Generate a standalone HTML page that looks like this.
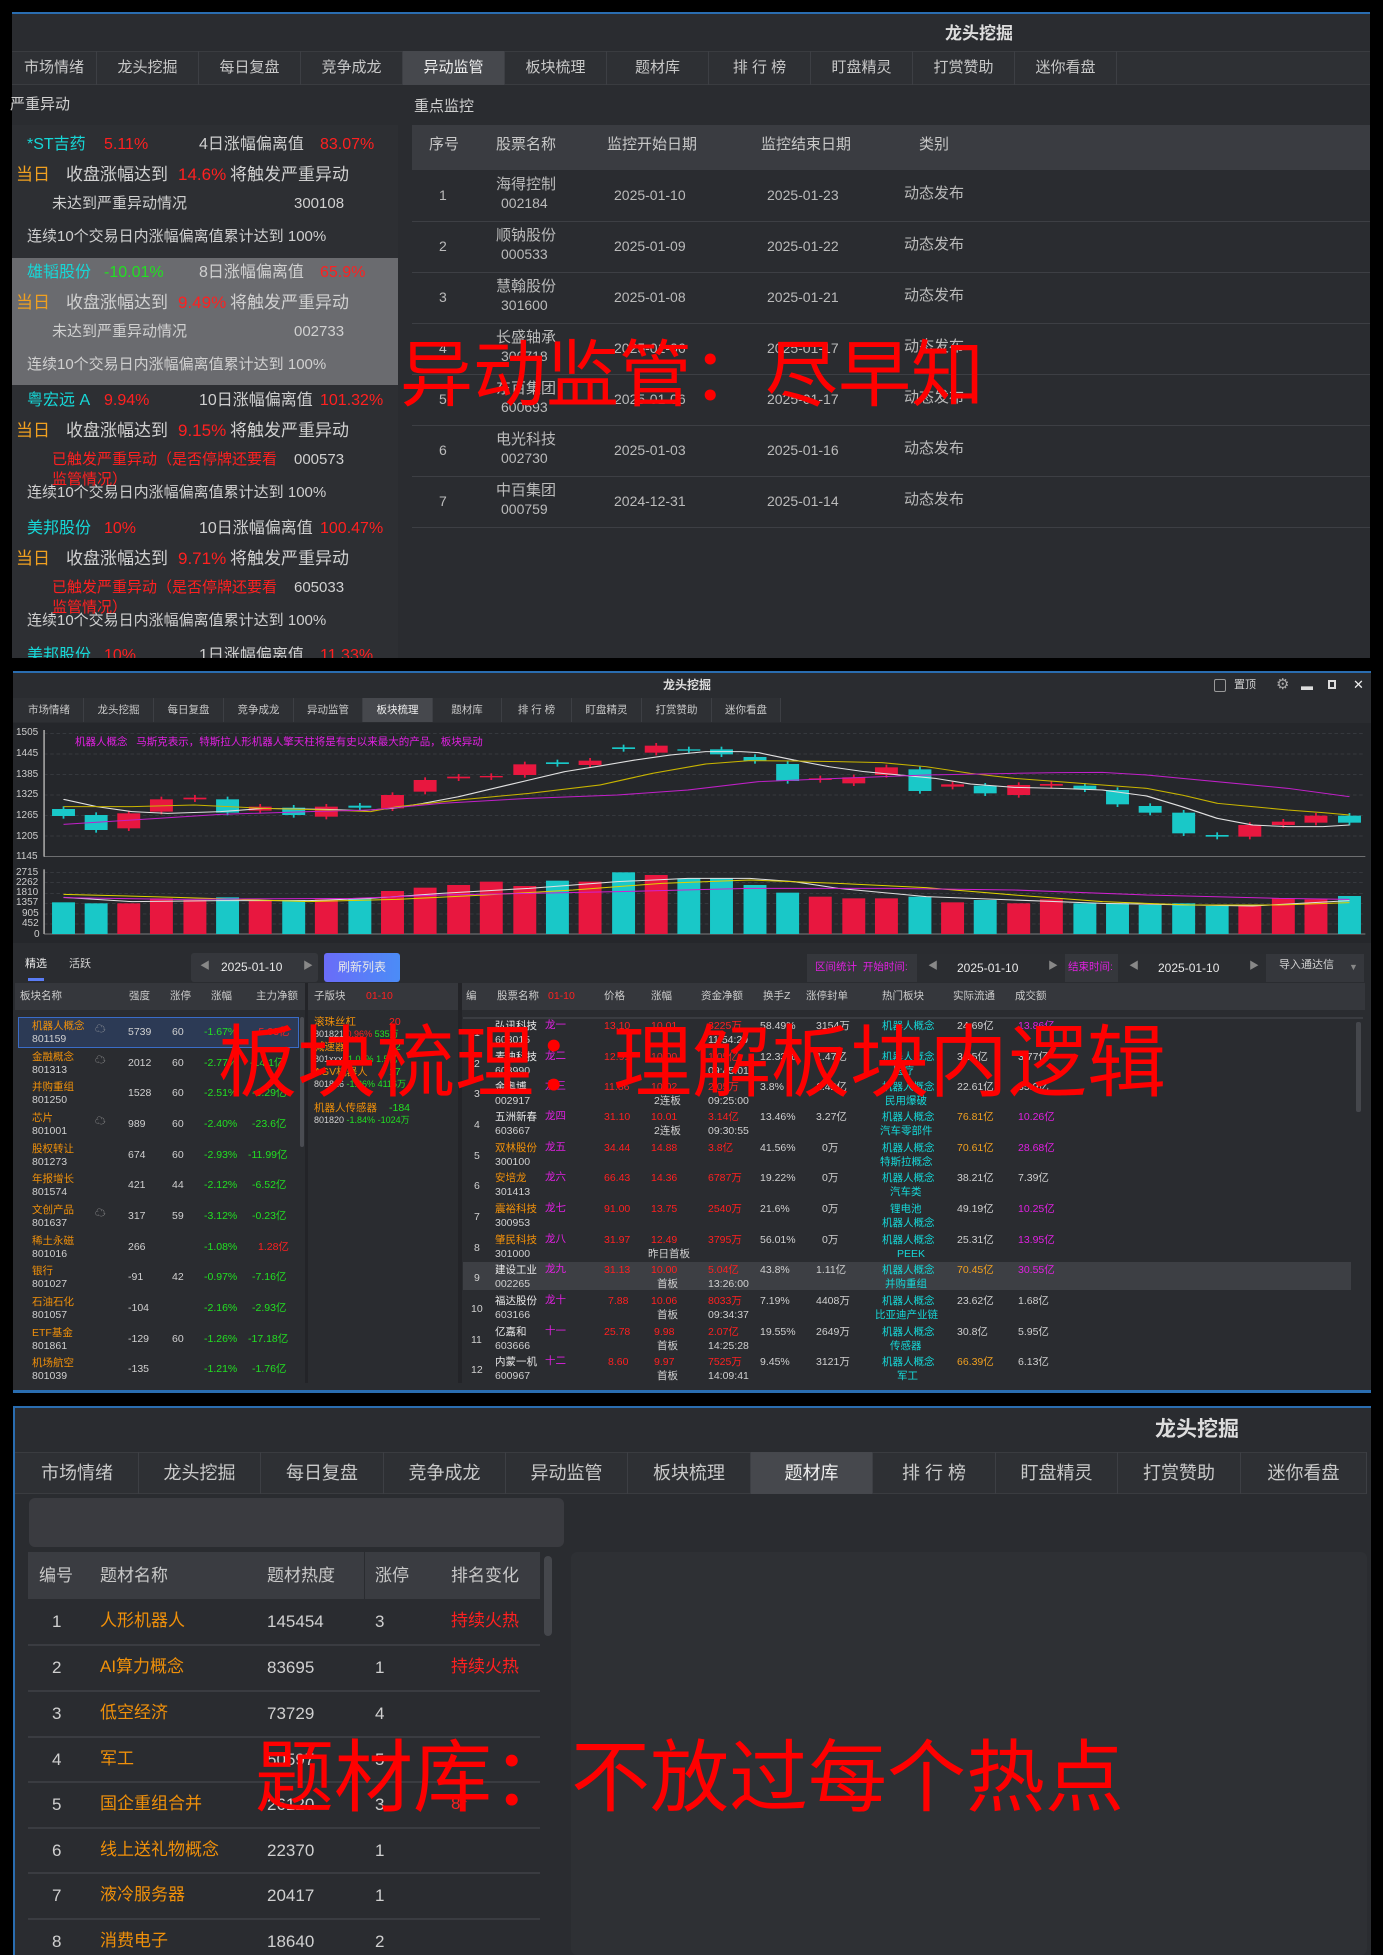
<!DOCTYPE html>
<html><head><meta charset="utf-8"><style>
*{margin:0;padding:0;box-sizing:border-box}
body{width:1383px;height:1955px;background:#000;position:relative;overflow:hidden;font-family:"Liberation Sans","Noto Sans CJK SC",sans-serif;color:#d0d0d0}
.a{position:absolute;white-space:nowrap;line-height:1}
.p{position:absolute}
.tab{position:absolute;border-right:1px solid #3d3f44;text-align:center;color:#c8c8c8}
.r{color:#ff2020}.g{color:#22e022}.o{color:#f0900a}.c{color:#16d8d8}.m{color:#e020e0}.w{color:#e8e8e8}.y{color:#f0a020}
.ov{position:absolute;color:#ff0000;white-space:nowrap;line-height:1;font-family:"Noto Sans CJK SC",sans-serif}
</style></head><body>

<!-- ============ SECTION 1 ============ -->
<div class="p" style="left:12px;top:12px;width:1358px;height:646px;background:#2a2c30;border-top:2px solid #2a6db0"></div>
<div class="a" style="left:945px;top:25px;font-size:17px;font-weight:bold;color:#ddd">龙头挖掘</div>
<div class="p" style="left:12px;top:51px;width:1358px;height:34px;background:#2e3034;border-top:1px solid #3a3c40;border-bottom:1px solid #3a3c40"></div>
<div style="font-size:15px">
<div class="tab" style="left:12px;top:51px;width:85px;height:34px;line-height:34px">市场情绪</div>
<div class="tab" style="left:97px;top:51px;width:102px;height:34px;line-height:34px">龙头挖掘</div>
<div class="tab" style="left:199px;top:51px;width:102px;height:34px;line-height:34px">每日复盘</div>
<div class="tab" style="left:301px;top:51px;width:102px;height:34px;line-height:34px">竞争成龙</div>
<div class="tab" style="left:403px;top:51px;width:102px;height:34px;line-height:34px;background:#46484d;color:#eee">异动监管</div>
<div class="tab" style="left:505px;top:51px;width:102px;height:34px;line-height:34px">板块梳理</div>
<div class="tab" style="left:607px;top:51px;width:102px;height:34px;line-height:34px">题材库</div>
<div class="tab" style="left:709px;top:51px;width:102px;height:34px;line-height:34px">排 行 榜</div>
<div class="tab" style="left:811px;top:51px;width:102px;height:34px;line-height:34px">盯盘精灵</div>
<div class="tab" style="left:913px;top:51px;width:102px;height:34px;line-height:34px">打赏赞助</div>
<div class="tab" style="left:1015px;top:51px;width:102px;height:34px;line-height:34px">迷你看盘</div>
</div>
<div class="a" style="left:10px;top:97px;font-size:15px">严重异动</div>
<div class="a" style="left:414px;top:99px;font-size:15px">重点监控</div>
<div class="p" style="left:12px;top:125px;width:386px;height:533px;background:#2d2f33"></div>
<div class="p" style="left:12px;top:258px;width:386px;height:127px;background:#6a6b6f"></div>

<div style="font-size:16px">
<div class="a c" style="left:27px;top:137px">*ST吉药</div><div class="a r" style="left:104px;top:137px">5.11%</div><div class="a" style="left:199px;top:137px">4日涨幅偏离值</div><div class="a r" style="left:320px;top:137px">83.07%</div>
<div class="a y" style="left:16px;top:166px;font-size:17px">当日</div><div class="a" style="left:66px;top:166px;font-size:17px">收盘涨幅达到</div><div class="a r" style="left:178px;top:166px;font-size:17px">14.6%</div><div class="a" style="left:230px;top:166px;font-size:17px">将触发严重异动</div>
<div class="a" style="left:52px;top:196px;font-size:15px">未达到严重异动情况</div><div class="a" style="left:294px;top:196px;font-size:15px">300108</div>
<div class="a" style="left:27px;top:229px;font-size:15px">连续10个交易日内涨幅偏离值累计达到 100%</div>
<div class="a c" style="left:27px;top:265px">雄韬股份</div><div class="a g" style="left:104px;top:265px">-10.01%</div><div class="a" style="left:199px;top:265px">8日涨幅偏离值</div><div class="a r" style="left:320px;top:265px">65.9%</div>
<div class="a y" style="left:16px;top:294px;font-size:17px">当日</div><div class="a" style="left:66px;top:294px;font-size:17px">收盘涨幅达到</div><div class="a r" style="left:178px;top:294px;font-size:17px">9.49%</div><div class="a" style="left:230px;top:294px;font-size:17px">将触发严重异动</div>
<div class="a" style="left:52px;top:324px;font-size:15px">未达到严重异动情况</div><div class="a" style="left:294px;top:324px;font-size:15px">002733</div>
<div class="a" style="left:27px;top:357px;font-size:15px">连续10个交易日内涨幅偏离值累计达到 100%</div>
<div class="a c" style="left:27px;top:393px">粤宏远 A</div><div class="a r" style="left:104px;top:393px">9.94%</div><div class="a" style="left:199px;top:393px">10日涨幅偏离值</div><div class="a r" style="left:320px;top:393px">101.32%</div>
<div class="a y" style="left:16px;top:422px;font-size:17px">当日</div><div class="a" style="left:66px;top:422px;font-size:17px">收盘涨幅达到</div><div class="a r" style="left:178px;top:422px;font-size:17px">9.15%</div><div class="a" style="left:230px;top:422px;font-size:17px">将触发严重异动</div>
<div class="a r" style="left:52px;top:452px;font-size:15px">已触发严重异动（是否停牌还要看</div><div class="a r" style="left:52px;top:472px;font-size:15px">监管情况）</div><div class="a" style="left:294px;top:452px;font-size:15px">000573</div>
<div class="a" style="left:27px;top:485px;font-size:15px">连续10个交易日内涨幅偏离值累计达到 100%</div>
<div class="a c" style="left:27px;top:521px">美邦股份</div><div class="a r" style="left:104px;top:521px">10%</div><div class="a" style="left:199px;top:521px">10日涨幅偏离值</div><div class="a r" style="left:320px;top:521px">100.47%</div>
<div class="a y" style="left:16px;top:550px;font-size:17px">当日</div><div class="a" style="left:66px;top:550px;font-size:17px">收盘涨幅达到</div><div class="a r" style="left:178px;top:550px;font-size:17px">9.71%</div><div class="a" style="left:230px;top:550px;font-size:17px">将触发严重异动</div>
<div class="a r" style="left:52px;top:580px;font-size:15px">已触发严重异动（是否停牌还要看</div><div class="a r" style="left:52px;top:600px;font-size:15px">监管情况）</div><div class="a" style="left:294px;top:580px;font-size:15px">605033</div>
<div class="a" style="left:27px;top:613px;font-size:15px">连续10个交易日内涨幅偏离值累计达到 100%</div>
<div class="a c" style="left:27px;top:648px">美邦股份</div><div class="a r" style="left:104px;top:648px">10%</div><div class="a" style="left:199px;top:648px">1日涨幅偏离值</div><div class="a r" style="left:320px;top:648px">11.33%</div>
</div>
<div class="p" style="left:0;top:658px;width:1383px;height:14px;background:#000"></div>

<div class="p" style="left:412px;top:125px;width:958px;height:45px;background:#3a3c41"></div>
<div style="font-size:15px;color:#c8c8c8">
<div class="a" style="left:429px;top:137px">序号</div><div class="a" style="left:496px;top:137px">股票名称</div><div class="a" style="left:607px;top:137px">监控开始日期</div><div class="a" style="left:761px;top:137px">监控结束日期</div><div class="a" style="left:919px;top:137px">类别</div>
</div>
<div style="font-size:14px;color:#bbb">
<div class="p" style="left:412px;top:221px;width:958px;height:1px;background:#3d3f44"></div>
<div class="p" style="left:412px;top:272px;width:958px;height:1px;background:#3d3f44"></div>
<div class="p" style="left:412px;top:323px;width:958px;height:1px;background:#3d3f44"></div>
<div class="p" style="left:412px;top:374px;width:958px;height:1px;background:#3d3f44"></div>
<div class="p" style="left:412px;top:425px;width:958px;height:1px;background:#3d3f44"></div>
<div class="p" style="left:412px;top:476px;width:958px;height:1px;background:#3d3f44"></div>
<div class="p" style="left:412px;top:527px;width:958px;height:1px;background:#3d3f44"></div>
<div class="a" style="left:439px;top:188px">1</div><div class="a" style="left:496px;top:177px;font-size:15px">海得控制</div><div class="a" style="left:501px;top:196px">002184</div><div class="a" style="left:614px;top:188px">2025-01-10</div><div class="a" style="left:767px;top:188px">2025-01-23</div><div class="a" style="left:904px;top:186px;font-size:15px">动态发布</div>
<div class="a" style="left:439px;top:239px">2</div><div class="a" style="left:496px;top:228px;font-size:15px">顺钠股份</div><div class="a" style="left:501px;top:247px">000533</div><div class="a" style="left:614px;top:239px">2025-01-09</div><div class="a" style="left:767px;top:239px">2025-01-22</div><div class="a" style="left:904px;top:237px;font-size:15px">动态发布</div>
<div class="a" style="left:439px;top:290px">3</div><div class="a" style="left:496px;top:279px;font-size:15px">慧翰股份</div><div class="a" style="left:501px;top:298px">301600</div><div class="a" style="left:614px;top:290px">2025-01-08</div><div class="a" style="left:767px;top:290px">2025-01-21</div><div class="a" style="left:904px;top:288px;font-size:15px">动态发布</div>
<div class="a" style="left:439px;top:341px">4</div><div class="a" style="left:496px;top:330px;font-size:15px">长盛轴承</div><div class="a" style="left:501px;top:349px">300718</div><div class="a" style="left:614px;top:341px">2025-01-06</div><div class="a" style="left:767px;top:341px">2025-01-17</div><div class="a" style="left:904px;top:339px;font-size:15px">动态发布</div>
<div class="a" style="left:439px;top:392px">5</div><div class="a" style="left:496px;top:381px;font-size:15px">东百集团</div><div class="a" style="left:501px;top:400px">600693</div><div class="a" style="left:614px;top:392px">2025-01-06</div><div class="a" style="left:767px;top:392px">2025-01-17</div><div class="a" style="left:904px;top:390px;font-size:15px">动态发布</div>
<div class="a" style="left:439px;top:443px">6</div><div class="a" style="left:496px;top:432px;font-size:15px">电光科技</div><div class="a" style="left:501px;top:451px">002730</div><div class="a" style="left:614px;top:443px">2025-01-03</div><div class="a" style="left:767px;top:443px">2025-01-16</div><div class="a" style="left:904px;top:441px;font-size:15px">动态发布</div>
<div class="a" style="left:439px;top:494px">7</div><div class="a" style="left:496px;top:483px;font-size:15px">中百集团</div><div class="a" style="left:501px;top:502px">000759</div><div class="a" style="left:614px;top:494px">2024-12-31</div><div class="a" style="left:767px;top:494px">2025-01-14</div><div class="a" style="left:904px;top:492px;font-size:15px">动态发布</div>
</div>
<div class="ov" style="left:400px;top:333px;font-size:73px">异动监管：尽早知</div>

<!-- ============ SECTION 2 ============ -->
<div class="p" style="left:13px;top:671px;width:1358px;height:721px;background:#2a2c30;border-top:2px solid #2a6db0"></div>
<div class="a" style="left:663px;top:679px;font-size:12px;font-weight:bold;color:#ddd">龙头挖掘</div>
<div class="p" style="left:1214px;top:679px;width:12px;height:13px;border:1px solid #999;border-radius:2px"></div>
<div class="a" style="left:1234px;top:680px;font-size:11px">置顶</div>
<div class="a" style="left:1276px;top:677px;font-size:15px;color:#aaa">⚙</div>
<div class="a" style="left:1301px;top:680px;font-size:12px;color:#ddd">▬</div>
<div class="p" style="left:1328px;top:680px;width:8px;height:9px;border:2px solid #ddd"></div>
<div class="a" style="left:1353px;top:678px;font-size:13px;color:#eee">✕</div>
<div class="p" style="left:13px;top:698px;width:768px;height:24px;background:#2e3034"></div>
<div style="font-size:10.5px">
<div class="tab" style="left:15px;top:698px;width:69px;height:24px;line-height:24px">市场情绪</div>
<div class="tab" style="left:84px;top:698px;width:70px;height:24px;line-height:24px">龙头挖掘</div>
<div class="tab" style="left:154px;top:698px;width:70px;height:24px;line-height:24px">每日复盘</div>
<div class="tab" style="left:224px;top:698px;width:70px;height:24px;line-height:24px">竞争成龙</div>
<div class="tab" style="left:294px;top:698px;width:69px;height:24px;line-height:24px">异动监管</div>
<div class="tab" style="left:363px;top:698px;width:70px;height:24px;line-height:24px;background:#46484d;color:#eee">板块梳理</div>
<div class="tab" style="left:433px;top:698px;width:69px;height:24px;line-height:24px">题材库</div>
<div class="tab" style="left:502px;top:698px;width:70px;height:24px;line-height:24px">排 行 榜</div>
<div class="tab" style="left:572px;top:698px;width:70px;height:24px;line-height:24px">盯盘精灵</div>
<div class="tab" style="left:642px;top:698px;width:70px;height:24px;line-height:24px">打赏赞助</div>
<div class="tab" style="left:712px;top:698px;width:69px;height:24px;line-height:24px">迷你看盘</div>
</div>
<div class="p" style="left:13px;top:723px;width:1358px;height:220px;background:#25272b"></div>
<svg class="p" style="left:0;top:660px" width="1383" height="300" viewBox="0 0 1568 900" preserveAspectRatio="none">
<g stroke="#4a4c52" stroke-width="1.5" stroke-dasharray="4 3">
<line x1="50" y1="220" x2="1548" y2="220"/><line x1="50" y1="282" x2="1548" y2="282"/><line x1="50" y1="343" x2="1548" y2="343"/><line x1="50" y1="405" x2="1548" y2="405"/><line x1="50" y1="466" x2="1548" y2="466"/><line x1="50" y1="528" x2="1548" y2="528"/>
<line x1="50" y1="637" x2="1548" y2="637"/><line x1="50" y1="668" x2="1548" y2="668"/><line x1="50" y1="700" x2="1548" y2="700"/><line x1="50" y1="730" x2="1548" y2="730"/><line x1="50" y1="762" x2="1548" y2="762"/><line x1="50" y1="792" x2="1548" y2="792"/>
</g>
<g stroke="#999" stroke-width="2"><line x1="50" y1="210" x2="50" y2="590"/><line x1="50" y1="590" x2="1548" y2="590"/><line x1="50" y1="628" x2="50" y2="822"/><line x1="50" y1="822" x2="1548" y2="822"/></g>
<g id="cand"></g>
<g stroke-width="3" fill="none">
<polyline stroke="#e0e0e0" points="72,418 110,440 150,455 190,460 250,455 300,445 370,448 410,452 445,445 480,430 520,410 560,385 600,360 640,335 680,318 720,300 760,285 800,275 840,275 860,278 900,300 940,320 980,335 1020,345 1060,355 1100,372 1150,382 1200,385 1250,390 1300,408 1340,440 1380,475 1420,495 1460,500 1500,500 1530,495"/>
<polyline stroke="#c8b400" points="72,440 150,440 220,435 300,445 370,450 420,455 450,440 520,420 600,400 680,375 740,340 800,312 850,302 900,303 950,305 1000,308 1050,320 1100,340 1150,355 1200,365 1250,375 1300,385 1340,405 1380,430 1420,440 1460,450 1500,458 1530,465"/>
<polyline stroke="#c020c8" points="72,493 150,480 250,463 350,455 420,450 500,430 600,415 700,405 780,390 860,365 950,355 1050,345 1150,340 1200,338 1250,337 1300,345 1400,370 1460,385 1530,410"/>
<polyline stroke="#e0e0e0" points="72,712 150,725 250,722 350,722 420,715 500,700 600,685 700,665 780,655 850,655 900,665 950,685 1050,710 1150,720 1250,730 1350,735 1420,738 1530,722"/>
<polyline stroke="#e0d000" points="72,703 200,712 350,725 450,718 550,705 650,690 750,670 850,660 950,670 1050,683 1150,705 1250,725 1350,735 1450,735 1530,728"/>
<polyline stroke="#d020d0" points="72,713 200,718 400,715 500,705 600,700 700,695 850,685 1000,685 1150,690 1300,705 1450,715 1530,718"/>
</g>
</svg>
<div style="font-size:10px;color:#ccc">
<div class="a" style="left:16px;top:728px">1505</div><div class="a" style="left:16px;top:749px">1445</div><div class="a" style="left:16px;top:770px">1385</div><div class="a" style="left:16px;top:790px">1325</div><div class="a" style="left:16px;top:811px">1265</div><div class="a" style="left:16px;top:832px">1205</div><div class="a" style="left:16px;top:852px">1145</div>
<div class="a" style="left:16px;top:868px">2715</div><div class="a" style="left:16px;top:878px">2262</div><div class="a" style="left:16px;top:888px">1810</div><div class="a" style="left:16px;top:898px">1357</div><div class="a" style="left:22px;top:909px">905</div><div class="a" style="left:22px;top:919px">452</div><div class="a" style="left:34px;top:930px">0</div>
</div>
<div class="a m" style="left:75px;top:737px;font-size:10.5px">机器人概念&nbsp;&nbsp;&nbsp;马斯克表示，特斯拉人形机器人擎天柱将是有史以来最大的产品，板块异动</div>

<div class="a w" style="left:25px;top:959px;font-size:11px">精选</div><div class="a" style="left:69px;top:959px;font-size:11px">活跃</div>
<div class="p" style="left:28px;top:978px;width:16px;height:3px;background:#5a7cf5"></div>
<div class="p" style="left:191px;top:953px;width:127px;height:29px;background:#35373c;border-radius:3px"></div>
<div class="a" style="left:200px;top:962px;font-size:10px;color:#888">◀</div><div class="a w" style="left:221px;top:961px;font-size:12px">2025-01-10</div><div class="a" style="left:303px;top:962px;font-size:10px;color:#888">▶</div>
<div class="p" style="left:324px;top:953px;width:76px;height:29px;background:linear-gradient(90deg,#6a6cf8,#4b8cf7);border-radius:3px"></div>
<div class="a w" style="left:338px;top:961px;font-size:12px">刷新列表</div>
<div class="p" style="left:807px;top:954px;width:557px;height:28px;background:#35373c"></div>
<div class="a m" style="left:815px;top:962px;font-size:10.5px">区间统计&nbsp;&nbsp;开始时间:</div>
<div class="p" style="left:917px;top:954px;width:148px;height:28px;background:#2b2d31"></div>
<div class="a" style="left:928px;top:962px;font-size:10px;color:#888">◀</div><div class="a w" style="left:957px;top:962px;font-size:12px">2025-01-10</div><div class="a" style="left:1048px;top:962px;font-size:10px;color:#888">▶</div>
<div class="a m" style="left:1068px;top:962px;font-size:10.5px">结束时间:</div>
<div class="p" style="left:1118px;top:954px;width:148px;height:28px;background:#2b2d31"></div>
<div class="a" style="left:1129px;top:962px;font-size:10px;color:#888">◀</div><div class="a w" style="left:1158px;top:962px;font-size:12px">2025-01-10</div><div class="a" style="left:1249px;top:962px;font-size:10px;color:#888">▶</div>
<div class="a" style="left:1279px;top:960px;font-size:11px">导入通达信</div><div class="a" style="left:1349px;top:963px;font-size:9px;color:#888">▼</div>

<div class="p" style="left:15px;top:983px;width:1350px;height:27px;background:#35373c"></div>
<div class="p" style="left:305px;top:983px;width:3px;height:400px;background:#232428"></div>
<div class="p" style="left:458px;top:983px;width:4px;height:400px;background:#232428"></div>
<div style="font-size:10.5px;color:#ccc">
<div class="a" style="left:20px;top:991px">板块名称</div><div class="a" style="left:129px;top:991px">强度</div><div class="a" style="left:170px;top:991px">涨停</div><div class="a" style="left:211px;top:991px">涨幅</div><div class="a" style="left:256px;top:991px">主力净额</div>
<div class="a" style="left:314px;top:991px">子版块</div><div class="a r" style="left:366px;top:991px">01-10</div>
<div class="a" style="left:466px;top:991px">编</div><div class="a" style="left:497px;top:991px">股票名称</div><div class="a r" style="left:548px;top:991px">01-10</div>
<div class="a" style="left:604px;top:991px">价格</div><div class="a" style="left:651px;top:991px">涨幅</div><div class="a" style="left:701px;top:991px">资金净额</div><div class="a" style="left:763px;top:991px">换手Z</div><div class="a" style="left:806px;top:991px">涨停封单</div><div class="a" style="left:882px;top:991px">热门板块</div><div class="a" style="left:953px;top:991px">实际流通</div><div class="a" style="left:1015px;top:991px">成交额</div>
</div>
<div class="p" style="left:18px;top:1017px;width:281px;height:31px;background:#2c3a55;border:1px solid #3a6cc8"></div>
<div class="p" style="left:300px;top:1017px;width:4px;height:130px;background:#4a4c52;border-radius:2px"></div>
<div class="p" style="left:463px;top:1017px;width:900px;height:2px;background:#3a3c41"></div>
<div class="p" style="left:463px;top:1262px;width:888px;height:28px;background:#3d3f44"></div>
<div class="p" style="left:1356px;top:1022px;width:5px;height:90px;background:#45474c;border-radius:2px"></div>

<div style="font-size:10.5px">
<div class="a o" style="left:32px;top:1021px">机器人概念</div><div class="a" style="left:32px;top:1034px">801159</div><div class="a" style="left:95px;top:1024px;color:#aaa">☁</div><div class="a" style="left:128px;top:1027px">5739</div><div class="a" style="left:172px;top:1027px">60</div><div class="a g" style="left:204px;top:1027px">-1.67%</div><div class="a r" style="left:255px;top:1027px">-5.03亿</div>
<div class="a o" style="left:32px;top:1052px">金融概念</div><div class="a" style="left:32px;top:1065px">801313</div><div class="a" style="left:95px;top:1055px;color:#aaa">☁</div><div class="a" style="left:128px;top:1058px">2012</div><div class="a" style="left:172px;top:1058px">60</div><div class="a g" style="left:204px;top:1058px">-2.77%</div><div class="a g" style="left:250px;top:1058px">-14.1亿</div>
<div class="a o" style="left:32px;top:1082px">并购重组</div><div class="a" style="left:32px;top:1095px">801250</div><div class="a" style="left:128px;top:1088px">1528</div><div class="a" style="left:172px;top:1088px">60</div><div class="a g" style="left:204px;top:1088px">-2.51%</div><div class="a g" style="left:252px;top:1088px">-6.29亿</div>
<div class="a o" style="left:32px;top:1113px">芯片</div><div class="a" style="left:32px;top:1126px">801001</div><div class="a" style="left:95px;top:1116px;color:#aaa">☁</div><div class="a" style="left:128px;top:1119px">989</div><div class="a" style="left:172px;top:1119px">60</div><div class="a g" style="left:204px;top:1119px">-2.40%</div><div class="a g" style="left:252px;top:1119px">-23.6亿</div>
<div class="a o" style="left:32px;top:1144px">股权转让</div><div class="a" style="left:32px;top:1157px">801273</div><div class="a" style="left:128px;top:1150px">674</div><div class="a" style="left:172px;top:1150px">60</div><div class="a g" style="left:204px;top:1150px">-2.93%</div><div class="a g" style="left:248px;top:1150px">-11.99亿</div>
<div class="a o" style="left:32px;top:1174px">年报增长</div><div class="a" style="left:32px;top:1187px">801574</div><div class="a" style="left:128px;top:1180px">421</div><div class="a" style="left:172px;top:1180px">44</div><div class="a g" style="left:204px;top:1180px">-2.12%</div><div class="a g" style="left:252px;top:1180px">-6.52亿</div>
<div class="a o" style="left:32px;top:1205px">文创产品</div><div class="a" style="left:32px;top:1218px">801637</div><div class="a" style="left:95px;top:1208px;color:#aaa">☁</div><div class="a" style="left:128px;top:1211px">317</div><div class="a" style="left:172px;top:1211px">59</div><div class="a g" style="left:204px;top:1211px">-3.12%</div><div class="a g" style="left:252px;top:1211px">-0.23亿</div>
<div class="a o" style="left:32px;top:1236px">稀土永磁</div><div class="a" style="left:32px;top:1249px">801016</div><div class="a" style="left:128px;top:1242px">266</div><div class="a g" style="left:204px;top:1242px">-1.08%</div><div class="a r" style="left:258px;top:1242px">1.28亿</div>
<div class="a o" style="left:32px;top:1266px">银行</div><div class="a" style="left:32px;top:1279px">801027</div><div class="a" style="left:128px;top:1272px">-91</div><div class="a" style="left:172px;top:1272px">42</div><div class="a g" style="left:204px;top:1272px">-0.97%</div><div class="a g" style="left:252px;top:1272px">-7.16亿</div>
<div class="a o" style="left:32px;top:1297px">石油石化</div><div class="a" style="left:32px;top:1310px">801057</div><div class="a" style="left:128px;top:1303px">-104</div><div class="a g" style="left:204px;top:1303px">-2.16%</div><div class="a g" style="left:252px;top:1303px">-2.93亿</div>
<div class="a o" style="left:32px;top:1328px">ETF基金</div><div class="a" style="left:32px;top:1341px">801861</div><div class="a" style="left:128px;top:1334px">-129</div><div class="a" style="left:172px;top:1334px">60</div><div class="a g" style="left:204px;top:1334px">-1.26%</div><div class="a g" style="left:248px;top:1334px">-17.18亿</div>
<div class="a o" style="left:32px;top:1358px">机场航空</div><div class="a" style="left:32px;top:1371px">801039</div><div class="a" style="left:128px;top:1364px">-135</div><div class="a g" style="left:204px;top:1364px">-1.21%</div><div class="a g" style="left:252px;top:1364px">-1.76亿</div>
<div class="a o" style="left:314px;top:1017px">滚珠丝杠</div><div class="a r" style="left:389px;top:1017px">20</div><div class="a" style="left:314px;top:1030px;font-size:9px">801821 <span class="r">0.96%</span> <span class="g">535万</span></div>
<div class="a o" style="left:314px;top:1042px">减速器</div><div class="a g" style="left:389px;top:1042px">22</div><div class="a" style="left:314px;top:1055px;font-size:9px">801xxx <span class="g">-1.01%</span> <span class="g">1.5亿</span></div>
<div class="a o" style="left:314px;top:1067px">AGV机器人</div><div class="a g" style="left:389px;top:1067px">17</div><div class="a" style="left:314px;top:1080px;font-size:9px">801826 <span class="g">-1.26%</span> <span class="g">4116万</span></div>
<div class="a o" style="left:314px;top:1103px">机器人传感器</div><div class="a g" style="left:389px;top:1103px">-184</div><div class="a" style="left:314px;top:1116px;font-size:9px">801820 <span class="g">-1.84%</span> <span class="g">-1024万</span></div>
</div>

<div style="font-size:10.5px">
<div class="a" style="left:474px;top:1028px">1</div><div class="a w" style="left:495px;top:1021px">弘讯科技</div><div class="a" style="left:495px;top:1035px">603015</div><div class="a m" style="left:545px;top:1020px">龙一</div><div class="a r" style="left:604px;top:1021px">13.10</div><div class="a r" style="left:651px;top:1021px">10.01</div><div class="a r" style="left:708px;top:1021px">3225万</div><div class="a" style="left:708px;top:1035px">11:54:29</div><div class="a" style="left:760px;top:1021px">58.49%</div><div class="a" style="left:816px;top:1021px">3154万</div><div class="a c" style="left:882px;top:1021px">机器人概念</div><div class="a" style="left:957px;top:1021px">24.69亿</div><div class="a m" style="left:1018px;top:1021px">13.86亿</div>
<div class="a" style="left:474px;top:1059px">2</div><div class="a w" style="left:495px;top:1052px">麦迪科技</div><div class="a" style="left:495px;top:1066px">603990</div><div class="a m" style="left:545px;top:1051px">龙二</div><div class="a r" style="left:604px;top:1052px">12.91</div><div class="a r" style="left:651px;top:1052px">10.00</div><div class="a r" style="left:708px;top:1052px">1.05亿</div><div class="a" style="left:708px;top:1066px">09:45:01</div><div class="a" style="left:760px;top:1052px">12.33%</div><div class="a" style="left:816px;top:1052px">1.47亿</div><div class="a c" style="left:882px;top:1052px">机器人概念</div><div class="a c" style="left:893px;top:1066px">医疗</div><div class="a" style="left:957px;top:1052px">3.65亿</div><div class="a" style="left:1018px;top:1052px">3.77亿</div>
<div class="a" style="left:474px;top:1089px">3</div><div class="a w" style="left:495px;top:1082px">金奥博</div><div class="a" style="left:495px;top:1096px">002917</div><div class="a m" style="left:545px;top:1081px">龙三</div><div class="a r" style="left:604px;top:1082px">11.86</div><div class="a r" style="left:651px;top:1082px">10.02</div><div class="a r" style="left:708px;top:1082px">2.05万</div><div class="a" style="left:654px;top:1096px">2连板</div><div class="a" style="left:708px;top:1096px">09:25:00</div><div class="a" style="left:760px;top:1082px">3.8%</div><div class="a" style="left:816px;top:1082px">1.42亿</div><div class="a c" style="left:882px;top:1082px">机器人概念</div><div class="a c" style="left:885px;top:1096px">民用爆破</div><div class="a" style="left:957px;top:1082px">22.61亿</div><div class="a" style="left:1018px;top:1082px">35.9亿</div>
<div class="a" style="left:474px;top:1120px">4</div><div class="a w" style="left:495px;top:1112px">五洲新春</div><div class="a" style="left:495px;top:1126px">603667</div><div class="a m" style="left:545px;top:1111px">龙四</div><div class="a r" style="left:604px;top:1112px">31.10</div><div class="a r" style="left:651px;top:1112px">10.01</div><div class="a r" style="left:708px;top:1112px">3.14亿</div><div class="a" style="left:654px;top:1126px">2连板</div><div class="a" style="left:708px;top:1126px">09:30:55</div><div class="a" style="left:760px;top:1112px">13.46%</div><div class="a" style="left:816px;top:1112px">3.27亿</div><div class="a c" style="left:882px;top:1112px">机器人概念</div><div class="a c" style="left:880px;top:1126px">汽车零部件</div><div class="a y" style="left:957px;top:1112px">76.81亿</div><div class="a m" style="left:1018px;top:1112px">10.26亿</div>
<div class="a" style="left:474px;top:1151px">5</div><div class="a o" style="left:495px;top:1143px">双林股份</div><div class="a" style="left:495px;top:1157px">300100</div><div class="a m" style="left:545px;top:1142px">龙五</div><div class="a r" style="left:604px;top:1143px">34.44</div><div class="a r" style="left:651px;top:1143px">14.88</div><div class="a r" style="left:708px;top:1143px">3.8亿</div><div class="a" style="left:760px;top:1143px">41.56%</div><div class="a" style="left:822px;top:1143px">0万</div><div class="a c" style="left:882px;top:1143px">机器人概念</div><div class="a c" style="left:880px;top:1157px">特斯拉概念</div><div class="a y" style="left:957px;top:1143px">70.61亿</div><div class="a m" style="left:1018px;top:1143px">28.68亿</div>
<div class="a" style="left:474px;top:1181px">6</div><div class="a o" style="left:495px;top:1173px">安培龙</div><div class="a" style="left:495px;top:1187px">301413</div><div class="a m" style="left:545px;top:1172px">龙六</div><div class="a r" style="left:604px;top:1173px">66.43</div><div class="a r" style="left:651px;top:1173px">14.36</div><div class="a r" style="left:708px;top:1173px">6787万</div><div class="a" style="left:760px;top:1173px">19.22%</div><div class="a" style="left:822px;top:1173px">0万</div><div class="a c" style="left:882px;top:1173px">机器人概念</div><div class="a c" style="left:890px;top:1187px">汽车类</div><div class="a" style="left:957px;top:1173px">38.21亿</div><div class="a" style="left:1018px;top:1173px">7.39亿</div>
<div class="a" style="left:474px;top:1212px">7</div><div class="a o" style="left:495px;top:1204px">震裕科技</div><div class="a" style="left:495px;top:1218px">300953</div><div class="a m" style="left:545px;top:1203px">龙七</div><div class="a r" style="left:604px;top:1204px">91.00</div><div class="a r" style="left:651px;top:1204px">13.75</div><div class="a r" style="left:708px;top:1204px">2540万</div><div class="a" style="left:760px;top:1204px">21.6%</div><div class="a" style="left:822px;top:1204px">0万</div><div class="a c" style="left:890px;top:1204px">锂电池</div><div class="a c" style="left:882px;top:1218px">机器人概念</div><div class="a" style="left:957px;top:1204px">49.19亿</div><div class="a m" style="left:1018px;top:1204px">10.25亿</div>
<div class="a" style="left:474px;top:1243px">8</div><div class="a o" style="left:495px;top:1235px">肇民科技</div><div class="a" style="left:495px;top:1249px">301000</div><div class="a m" style="left:545px;top:1234px">龙八</div><div class="a r" style="left:604px;top:1235px">31.97</div><div class="a r" style="left:651px;top:1235px">12.49</div><div class="a r" style="left:708px;top:1235px">3795万</div><div class="a" style="left:648px;top:1249px">昨日首板</div><div class="a" style="left:760px;top:1235px">56.01%</div><div class="a" style="left:822px;top:1235px">0万</div><div class="a c" style="left:882px;top:1235px">机器人概念</div><div class="a c" style="left:897px;top:1249px">PEEK</div><div class="a" style="left:957px;top:1235px">25.31亿</div><div class="a m" style="left:1018px;top:1235px">13.95亿</div>
<div class="a" style="left:474px;top:1273px">9</div><div class="a w" style="left:495px;top:1265px">建设工业</div><div class="a" style="left:495px;top:1279px">002265</div><div class="a m" style="left:545px;top:1264px">龙九</div><div class="a r" style="left:604px;top:1265px">31.13</div><div class="a r" style="left:651px;top:1265px">10.00</div><div class="a r" style="left:708px;top:1265px">5.04亿</div><div class="a" style="left:657px;top:1279px">首板</div><div class="a" style="left:708px;top:1279px">13:26:00</div><div class="a" style="left:760px;top:1265px">43.8%</div><div class="a" style="left:816px;top:1265px">1.11亿</div><div class="a c" style="left:882px;top:1265px">机器人概念</div><div class="a c" style="left:885px;top:1279px">并购重组</div><div class="a y" style="left:957px;top:1265px">70.45亿</div><div class="a m" style="left:1018px;top:1265px">30.55亿</div>
<div class="a" style="left:471px;top:1304px">10</div><div class="a w" style="left:495px;top:1296px">福达股份</div><div class="a" style="left:495px;top:1310px">603166</div><div class="a m" style="left:545px;top:1295px">龙十</div><div class="a r" style="left:608px;top:1296px">7.88</div><div class="a r" style="left:651px;top:1296px">10.06</div><div class="a r" style="left:708px;top:1296px">8033万</div><div class="a" style="left:657px;top:1310px">首板</div><div class="a" style="left:708px;top:1310px">09:34:37</div><div class="a" style="left:760px;top:1296px">7.19%</div><div class="a" style="left:816px;top:1296px">4408万</div><div class="a c" style="left:882px;top:1296px">机器人概念</div><div class="a c" style="left:875px;top:1310px">比亚迪产业链</div><div class="a" style="left:957px;top:1296px">23.62亿</div><div class="a" style="left:1018px;top:1296px">1.68亿</div>
<div class="a" style="left:471px;top:1335px">11</div><div class="a w" style="left:495px;top:1327px">亿嘉和</div><div class="a" style="left:495px;top:1341px">603666</div><div class="a m" style="left:545px;top:1326px">十一</div><div class="a r" style="left:604px;top:1327px">25.78</div><div class="a r" style="left:654px;top:1327px">9.98</div><div class="a r" style="left:708px;top:1327px">2.07亿</div><div class="a" style="left:657px;top:1341px">首板</div><div class="a" style="left:708px;top:1341px">14:25:28</div><div class="a" style="left:760px;top:1327px">19.55%</div><div class="a" style="left:816px;top:1327px">2649万</div><div class="a c" style="left:882px;top:1327px">机器人概念</div><div class="a c" style="left:890px;top:1341px">传感器</div><div class="a" style="left:957px;top:1327px">30.8亿</div><div class="a" style="left:1018px;top:1327px">5.95亿</div>
<div class="a" style="left:471px;top:1365px">12</div><div class="a w" style="left:495px;top:1357px">内蒙一机</div><div class="a" style="left:495px;top:1371px">600967</div><div class="a m" style="left:545px;top:1356px">十二</div><div class="a r" style="left:608px;top:1357px">8.60</div><div class="a r" style="left:654px;top:1357px">9.97</div><div class="a r" style="left:708px;top:1357px">7525万</div><div class="a" style="left:657px;top:1371px">首板</div><div class="a" style="left:708px;top:1371px">14:09:41</div><div class="a" style="left:760px;top:1357px">9.45%</div><div class="a" style="left:816px;top:1357px">3121万</div><div class="a c" style="left:882px;top:1357px">机器人概念</div><div class="a c" style="left:897px;top:1371px">军工</div><div class="a y" style="left:957px;top:1357px">66.39亿</div><div class="a" style="left:1018px;top:1357px">6.13亿</div>
</div>
<div class="ov" style="left:218px;top:1016px;font-size:79px">板块梳理：理解板块内逻辑</div>
<div class="p" style="left:13px;top:1390px;width:1358px;height:3px;background:#2a6db0"></div>
<div class="p" style="left:0;top:1393px;width:1383px;height:13px;background:#000"></div>

<!-- ============ SECTION 3 ============ -->
<div class="p" style="left:13px;top:1406px;width:1358px;height:549px;background:#2a2c30;border-top:2px solid #2a6db0;border-left:2px solid #2a6db0"></div>
<div class="a" style="left:1155px;top:1419px;font-size:21px;font-weight:bold;color:#ddd">龙头挖掘</div>
<div class="p" style="left:15px;top:1452px;width:1352px;height:42px;background:#2e3034;border-top:1px solid #3a3c40;border-bottom:1px solid #3a3c40"></div>
<div style="font-size:18px">
<div class="tab" style="left:16px;top:1452px;width:123px;height:42px;line-height:42px">市场情绪</div>
<div class="tab" style="left:139px;top:1452px;width:122px;height:42px;line-height:42px">龙头挖掘</div>
<div class="tab" style="left:261px;top:1452px;width:123px;height:42px;line-height:42px">每日复盘</div>
<div class="tab" style="left:384px;top:1452px;width:122px;height:42px;line-height:42px">竞争成龙</div>
<div class="tab" style="left:506px;top:1452px;width:122px;height:42px;line-height:42px">异动监管</div>
<div class="tab" style="left:628px;top:1452px;width:123px;height:42px;line-height:42px">板块梳理</div>
<div class="tab" style="left:751px;top:1452px;width:122px;height:42px;line-height:42px;background:#46484d;color:#eee">题材库</div>
<div class="tab" style="left:873px;top:1452px;width:123px;height:42px;line-height:42px">排 行 榜</div>
<div class="tab" style="left:996px;top:1452px;width:122px;height:42px;line-height:42px">盯盘精灵</div>
<div class="tab" style="left:1118px;top:1452px;width:123px;height:42px;line-height:42px">打赏赞助</div>
<div class="tab" style="left:1241px;top:1452px;width:126px;height:42px;line-height:42px">迷你看盘</div>
</div>
<div class="p" style="left:29px;top:1498px;width:535px;height:49px;background:#3a3b40;border-radius:6px"></div>
<div class="p" style="left:571px;top:1552px;width:796px;height:403px;background:#2e3034;border-radius:6px"></div>
<div class="p" style="left:28px;top:1552px;width:512px;height:47px;background:#3a3c41"></div>
<div class="p" style="left:364px;top:1552px;width:1px;height:47px;background:#2a2c30"></div>
<div class="p" style="left:544px;top:1556px;width:8px;height:80px;background:#45474c;border-radius:4px"></div>
<div style="font-size:17px;color:#c8c8c8">
<div class="a" style="left:39px;top:1567px">编号</div><div class="a" style="left:100px;top:1567px">题材名称</div><div class="a" style="left:267px;top:1567px">题材热度</div><div class="a" style="left:375px;top:1567px">涨停</div><div class="a" style="left:451px;top:1567px">排名变化</div>
</div>
<div style="font-size:17px">
<div class="p" style="left:28px;top:1644px;width:512px;height:2px;background:#3a3c41"></div>
<div class="p" style="left:28px;top:1690px;width:512px;height:2px;background:#3a3c41"></div>
<div class="p" style="left:28px;top:1736px;width:512px;height:2px;background:#3a3c41"></div>
<div class="p" style="left:28px;top:1781px;width:512px;height:2px;background:#3a3c41"></div>
<div class="p" style="left:28px;top:1827px;width:512px;height:2px;background:#3a3c41"></div>
<div class="p" style="left:28px;top:1872px;width:512px;height:2px;background:#3a3c41"></div>
<div class="p" style="left:28px;top:1918px;width:512px;height:2px;background:#3a3c41"></div>
<div class="a" style="left:52px;top:1613px">1</div><div class="a o" style="left:100px;top:1612px">人形机器人</div><div class="a" style="left:267px;top:1613px">145454</div><div class="a" style="left:375px;top:1613px">3</div><div class="a r" style="left:451px;top:1612px">持续火热</div>
<div class="a" style="left:52px;top:1659px">2</div><div class="a o" style="left:100px;top:1658px">AI算力概念</div><div class="a" style="left:267px;top:1659px">83695</div><div class="a" style="left:375px;top:1659px">1</div><div class="a r" style="left:451px;top:1658px">持续火热</div>
<div class="a" style="left:52px;top:1705px">3</div><div class="a o" style="left:100px;top:1704px">低空经济</div><div class="a" style="left:267px;top:1705px">73729</div><div class="a" style="left:375px;top:1705px">4</div>
<div class="a" style="left:52px;top:1751px">4</div><div class="a o" style="left:100px;top:1750px">军工</div><div class="a" style="left:267px;top:1751px">50597</div><div class="a" style="left:375px;top:1751px">5</div>
<div class="a" style="left:52px;top:1796px">5</div><div class="a o" style="left:100px;top:1795px">国企重组合并</div><div class="a" style="left:267px;top:1796px">26120</div><div class="a" style="left:375px;top:1796px">3</div><div class="a r" style="left:451px;top:1795px">8↑</div>
<div class="a" style="left:52px;top:1842px">6</div><div class="a o" style="left:100px;top:1841px">线上送礼物概念</div><div class="a" style="left:267px;top:1842px">22370</div><div class="a" style="left:375px;top:1842px">1</div>
<div class="a" style="left:52px;top:1887px">7</div><div class="a o" style="left:100px;top:1886px">液冷服务器</div><div class="a" style="left:267px;top:1887px">20417</div><div class="a" style="left:375px;top:1887px">1</div>
<div class="a" style="left:52px;top:1933px">8</div><div class="a o" style="left:100px;top:1932px">消费电子</div><div class="a" style="left:267px;top:1933px">18640</div><div class="a" style="left:375px;top:1933px">2</div>
</div>
<div class="ov" style="left:255px;top:1731px;font-size:79px">题材库：不放过每个热点</div>

<script>
var C=[[72,447,468,0],[109,465,510,0],[146,460,505,1],[183,418,455,1],[221,413,418,1],[258,418,458,0],[295,440,452,1],[333,443,465,0],[370,440,470,1],[408,437,443,0],[445,405,445,1],[482,360,395,1],[520,350,355,1],[557,348,352,1],[595,313,345,1],[632,307,312,0],[669,302,315,1],[707,262,267,0],[744,257,278,1],[781,268,270,0],[818,268,283,0],[856,291,303,0],[893,312,363,0],[930,355,360,1],[968,352,370,1],[1005,322,345,1],[1043,328,393,0],[1080,373,380,1],[1117,377,400,0],[1155,375,405,1],[1192,372,377,1],[1230,377,388,0],[1267,390,433,0],[1304,438,458,0],[1342,458,520,0],[1380,525,530,0],[1417,495,530,1],[1455,485,495,1],[1492,467,488,1],[1530,467,488,0]];
var V=[727,730,730,715,720,712,720,720,718,715,693,683,675,665,678,662,665,637,645,655,655,675,698,710,715,715,710,727,720,730,718,730,730,735,730,738,735,715,718,708];
var s='';
for(var i=0;i<C.length;i++){var c=C[i],col=c[3]?'#e8173f':'#19c8c8';
s+='<line x1="'+c[0]+'" x2="'+c[0]+'" y1="'+(c[1]-8)+'" y2="'+(c[2]+8)+'" stroke="'+col+'" stroke-width="2"/>';
s+='<rect x="'+(c[0]-13)+'" y="'+c[1]+'" width="26" height="'+Math.max(4,c[2]-c[1])+'" fill="'+col+'"/>';
s+='<rect x="'+(c[0]-13)+'" y="'+V[i]+'" width="26" height="'+(822-V[i])+'" fill="'+col+'"/>';}
document.getElementById('cand').innerHTML=s;
</script>
</body></html>
